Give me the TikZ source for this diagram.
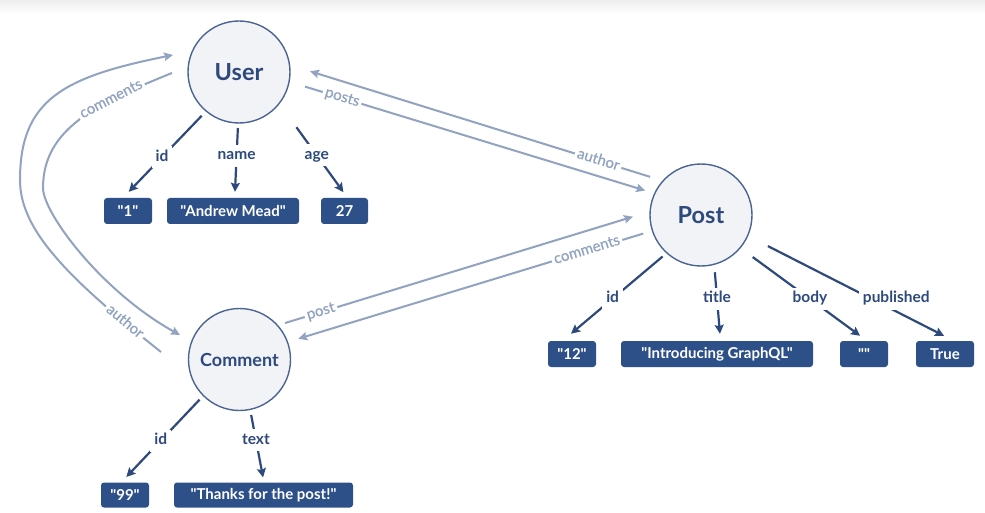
\documentclass[tikz,border=0pt]{standalone}
\usepackage{fontspec}
\newfontfamily\lato{Lato}
\newfontfamily\latomed{Lato}[FakeBold=0.6]
\usetikzlibrary{arrows.meta,calc}
\definecolor{boxblue}{HTML}{2E5088}
\definecolor{darkblue}{HTML}{2E4A7D}
\definecolor{circfill}{HTML}{F1F3F6}
\definecolor{circline}{HTML}{4A6592}
\definecolor{lightblue}{HTML}{91A3C0}
\tikzset{
  ent/.style={circle, draw=circline, fill=circfill, line width=1.4pt, minimum size=102pt, inner sep=0pt, outer sep=0pt, text=darkblue, font=\lato\fontsize{23.5}{27}\selectfont\bfseries},
  val/.style={rectangle, rounded corners=3pt, fill=boxblue, text=white, minimum height=26pt, inner sep=0pt, font=\lato\fontsize{15}{17}\selectfont\bfseries},
  fld/.style={draw=darkblue, line width=2.2pt, -{Stealth[length=9pt,width=9pt,inset=1.5pt]}},
  fl/.style={fill=white, text=darkblue, inner sep=4pt, text height=11pt, text depth=3pt, font=\lato\fontsize{15.5}{17}\selectfont\bfseries},
  rel/.style={draw=lightblue, line width=2pt, -{Stealth[length=9pt,width=8.5pt,inset=1.5pt]}},
  rl/.style={sloped, fill=white, text=lightblue, inner sep=2.5pt, text height=9.5pt, text depth=2.5pt, font=\latomed\fontsize{15}{17}\selectfont}
}
\begin{document}
\begin{tikzpicture}[x=1pt,y=-1pt]
\useasboundingbox (0,0) rectangle (985,513);
\fill[white] (0,0) rectangle (985,513);
\fill[top color=black!7, bottom color=white, draw=none] (0,0) rectangle (985,14);

% entities
\node[ent] (user) at (239,72) {User};
\node[ent] (post) at (701,215) {Post};
\node[ent, font=\lato\fontsize{18}{21}\selectfont\bfseries] (comment) at (239.5,359.5) {Comment};

% values
\node[val, minimum width=48pt] (u1) at (128,211) {"1"};
\node[val, minimum width=132pt] (uname) at (233,211) {"Andrew Mead"};
\node[val, minimum width=47pt] (u27) at (344.5,211) {27};
\node[val, minimum width=48pt] (p12) at (572,354) {"12"};
\node[val, minimum width=192pt] (ptitle) at (717,354) {"Introducing GraphQL"};
\node[val, minimum width=48pt] (pbody) at (864,354) {""};
\node[val, minimum width=58pt] (ptrue) at (945,354) {True};
\node[val, minimum width=48pt, minimum height=25pt] (c99) at (125,495) {"99"};
\node[val, minimum width=179pt, minimum height=25pt] (ctext) at (263.5,495) {"Thanks for the post!"};

% field arrows
\draw[fld, shorten <=6.5pt, shorten >=8.3pt] (user.-130) -- node[fl, pos=.53]{id} ([xshift=-5pt]u1.north);
\draw[fld, shorten <=5pt, shorten >=6pt] (user.-91) -- node[fl, pos=.44]{name} ([xshift=1.7pt]uname.north);
\draw[fld, shorten <=29.4pt, shorten >=7pt] (user.-38.4) -- node[fl, pos=.55]{age} ([xshift=3pt]u27.north);
\draw[fld, shorten <=5.6pt, shorten >=11pt] (post.-132.1) -- node[fl, pos=.52]{id} ([xshift=-9.4pt]p12.north);
\draw[fld, shorten <=8pt, shorten >=7pt] (post.-75.3) -- node[fl, pos=.45]{title} ([xshift=3.5pt]ptitle.north);
\draw[fld, shorten <=15.7pt, shorten >=8.5pt] (post.-40.1) -- node[fl, pos=.55]{body} ([xshift=3pt]pbody.north);
\draw[fld, shorten <=22.8pt, shorten >=11pt] (post.-24.8) -- node[fl, pos=.6, xshift=25pt]{published} ([xshift=8.8pt]ptrue.north);
\draw[fld, shorten <=5.6pt, shorten >=7.3pt] (comment.-135.7) -- node[fl, pos=.52]{id} ([xshift=-3.7pt]c99.north);
\draw[fld, shorten <=5.7pt, shorten >=5pt] (comment.-78.3) -- node[fl, pos=.42]{text} ([xshift=0.5pt]ctext.north);

% relations (straight)
\draw[rel, shorten <=16.7pt, shorten >=10pt] (user.-11.4) -- node[rl, pos=.145]{posts} (post.155.5);
\draw[rel, shorten <=13.6pt, shorten >=21.5pt] (post.138.2) -- node[rl, pos=.174]{author} (user.8.3);
\draw[rel, shorten <=8pt, shorten >=17.9pt] (comment.42.1) -- node[rl, pos=.117]{post} (post.176.4);
\draw[rel, shorten <=9.7pt, shorten >=11.3pt] (post.-162.7) -- node[rl, pos=.179]{comments} (comment.20.9);

% relations (curved)
\coordinate (cin) at ($(user.west)+(-16,1)$);
\coordinate (cout) at ($(user.west)+(-15,-17)$);
\coordinate (min) at ($(comment.west)+(-8.5,-24.5)$);
\coordinate (mout) at ($(comment.west)+(-27.5,-7.5)$);
\draw[rel] (cin) .. controls (98,103) and (43,128) .. node[rl, pos=.3]{comments} (43,188)
  .. controls (43,213) and (101.3,291.3) .. (min);
\draw[rel] (mout) .. controls (67.4,277.6) and (20,230) .. node[rl, pos=.14]{author} (20,180)
  .. controls (20,100) and (63,77) .. (cout);
\end{tikzpicture}
\end{document}
